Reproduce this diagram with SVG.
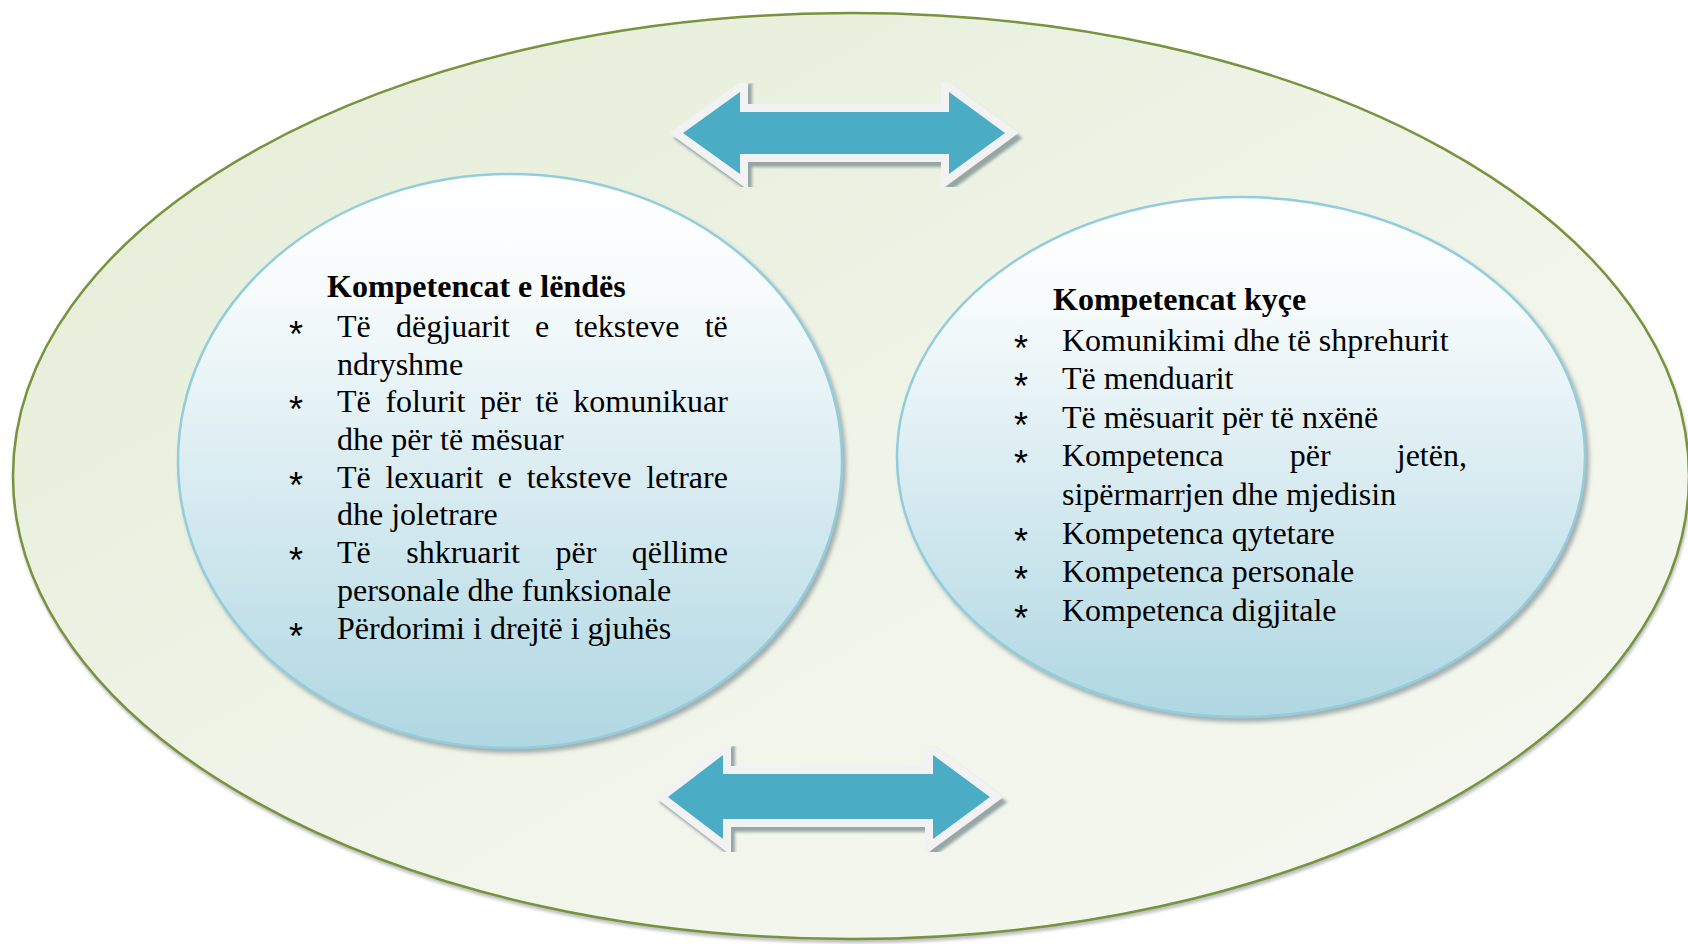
<svg xmlns="http://www.w3.org/2000/svg" width="1688" height="944" viewBox="0 0 1688 944">
<style>
.ttl{font-family:"Liberation Serif","Times New Roman",serif;font-weight:bold;font-size:32px;fill:#000}
.t{font-family:"Liberation Serif","Times New Roman",serif;font-size:32px;fill:#000}
.b{font-family:"Liberation Sans",Arial,sans-serif;font-size:36px;fill:#000}
.circ{fill:url(#cg);stroke:#93cddd;stroke-width:2.5;filter:url(#sh)}
.arrW{fill:#f2f2f2;stroke:#f2f2f2;stroke-width:16;stroke-linejoin:miter;stroke-miterlimit:10;filter:url(#ash)}
.arrB{fill:#4bacc6}
</style>
<defs>
<linearGradient id="og" x1="0" y1="0" x2="1" y2="1">
<stop offset="0" stop-color="#e4ecd4"/>
<stop offset="0.5" stop-color="#eff4e8"/>
<stop offset="1" stop-color="#f6f8f1"/>
</linearGradient>
<linearGradient id="cg" x1="0" y1="0" x2="0" y2="1">
<stop offset="0" stop-color="#ffffff"/>
<stop offset="0.2" stop-color="#f7fbfc"/>
<stop offset="1" stop-color="#afd7e2"/>
</linearGradient>
<filter id="sh" x="-5%" y="-5%" width="112%" height="112%">
<feDropShadow dx="3" dy="4" stdDeviation="2" flood-color="#6f7f84" flood-opacity="0.6"/>
</filter>
<filter id="ash" x="-5%" y="-10%" width="112%" height="125%">
<feDropShadow dx="4" dy="5" stdDeviation="1.5" flood-color="#6f8589" flood-opacity="0.7"/>
</filter>
<filter id="osh" x="-2%" y="-2%" width="104%" height="104%">
<feDropShadow dx="1" dy="3" stdDeviation="1.5" flood-color="#808080" flood-opacity="0.5"/>
</filter>
</defs>
<rect width="1688" height="944" fill="#ffffff"/>
<g id="outer">
<ellipse cx="851" cy="476" rx="838" ry="463" fill="url(#og)" stroke="#77933c" stroke-width="2.5" filter="url(#osh)"/>
</g>
<g id="connectors">
<g id="arrow-top">
<polygon class="arrW" points="683,133 740,92 740,112 949,112 949,92 1005,133 949,174 949,154 740,154 740,174"/>
<polygon class="arrB" points="683,133 740,92 740,112 949,112 949,92 1005,133 949,174 949,154 740,154 740,174"/>
</g>
<g id="arrow-bottom">
<polygon class="arrW" points="668,797 723,755 723,774 933,774 933,755 990,797 933,839 933,819 723,819 723,839"/>
<polygon class="arrB" points="668,797 723,755 723,774 933,774 933,755 990,797 933,839 933,819 723,819 723,839"/>
</g>
</g>
<g id="node-lendes">
<ellipse class="circ" cx="510" cy="461" rx="332" ry="287"/>
<text class="ttl" x="327" y="297">Kompetencat e lëndës</text>
<text class="b" x="289" y="347">*</text>
<text class="t" x="337" y="337" word-spacing="17.3">Të dëgjuarit e teksteve të</text>
<text class="t" x="337" y="375">ndryshme</text>
<text class="b" x="289" y="422">*</text>
<text class="t" x="337" y="412" word-spacing="6.65">Të folurit për të komunikuar</text>
<text class="t" x="337" y="450">dhe për të mësuar</text>
<text class="b" x="289" y="498">*</text>
<text class="t" x="337" y="488" word-spacing="6.67">Të lexuarit e teksteve letrare</text>
<text class="t" x="337" y="525">dhe joletrare</text>
<text class="b" x="289" y="573">*</text>
<text class="t" x="337" y="563" word-spacing="27.5">Të shkruarit për qëllime</text>
<text class="t" x="337" y="601">personale dhe funksionale</text>
<text class="b" x="289" y="649">*</text>
<text class="t" x="337" y="639">Përdorimi i drejtë i gjuhës</text>
</g>
<g id="node-kyce">
<ellipse class="circ" cx="1241" cy="457" rx="344" ry="260"/>
<text class="ttl" x="1053" y="310">Kompetencat kyçe</text>
<text class="b" x="1014" y="361">*</text>
<text class="t" x="1062" y="351">Komunikimi dhe të shprehurit</text>
<text class="b" x="1014" y="399">*</text>
<text class="t" x="1062" y="389">Të menduarit</text>
<text class="b" x="1014" y="438">*</text>
<text class="t" x="1062" y="428">Të mësuarit për të nxënë</text>
<text class="b" x="1014" y="476">*</text>
<text class="t" x="1062" y="466" word-spacing="58.1">Kompetenca për jetën,</text>
<text class="t" x="1062" y="505">sipërmarrjen dhe mjedisin</text>
<text class="b" x="1014" y="554">*</text>
<text class="t" x="1062" y="544">Kompetenca qytetare</text>
<text class="b" x="1014" y="592">*</text>
<text class="t" x="1062" y="582">Kompetenca personale</text>
<text class="b" x="1014" y="631">*</text>
<text class="t" x="1062" y="621">Kompetenca digjitale</text>
</g>
</svg>
